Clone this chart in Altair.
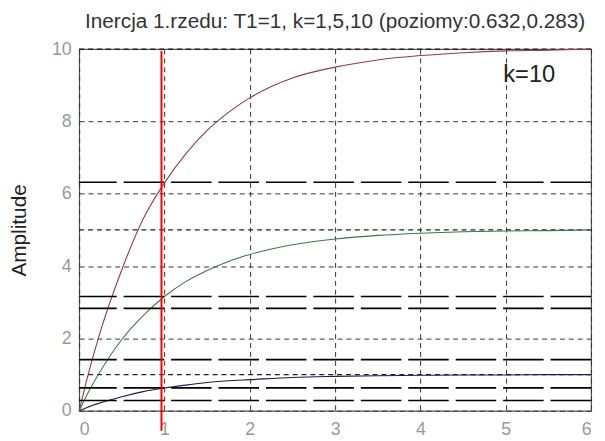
import altair as alt
import pandas as pd

# time samples
t = [0, 0.1, 0.25, 0.5, 0.75, 1, 1.25, 1.5, 1.75, 2, 2.5, 3, 3.5, 4, 4.5, 5, 5.5, 6]
# step responses
y_k10 = [0, 0.95, 2.2, 3.9, 5.3, 6.3, 7.1, 7.75, 8.25, 8.65, 9.2, 9.5, 9.7, 9.82, 9.9, 9.95, 9.97, 10]
y_k5 = [0, 0.48, 1.1, 1.97, 2.63, 3.16, 3.57, 3.88, 4.13, 4.32, 4.59, 4.75, 4.85, 4.91, 4.95, 4.97, 4.98, 5]
y_k1 = [0, 0.1, 0.22, 0.39, 0.53, 0.63, 0.71, 0.78, 0.83, 0.86, 0.92, 0.95, 0.97, 0.98, 0.99, 0.99, 1.0, 1.0]

k_labels = ["1", "5", "10"]
k_colors = ["#1c1c50", "#3a7a46", "#903c4c"]

# horizontal reference levels
steady_levels = [1, 5, 10]
level_lines = [6.32, 3.16, 2.83, 1.415, 0.632, 0.283]

# red vertical marker (time constant)
marker_t = [0.965]
marker_y_low = [-0.55]
marker_y_high = [9.95]

x_ticks = [0, 1, 2, 3, 4, 5, 6]
y_ticks = [0, 2, 4, 6, 8, 10]

title_text = "Inercja 1.rzedu: T1=1, k=1,5,10 (poziomy:0.632,0.283)"
annot_text = ["k=10"]
annot_x = [4.97]
annot_y = [9.1]

FONT = "Liberation Sans"

rows = []
for k, ys in zip(k_labels, [y_k1, y_k5, y_k10]):
    for ti, yi in zip(t, ys):
        rows.append({"t": ti, "y": yi, "k": k})
curves_df = pd.DataFrame(rows)

x_scale = alt.Scale(domain=[0, 6], nice=False, zero=False)
y_scale = alt.Scale(domain=[0, 10], nice=False, zero=False)

x_axis = alt.Axis(values=x_ticks, title=None, grid=True, labelPadding=10)
y_axis = alt.Axis(values=y_ticks, title="Amplitude", grid=True, labelPadding=8, titlePadding=22)

steady = alt.Chart(pd.DataFrame({"y": steady_levels})).mark_rule(
    color="#222", strokeWidth=1.2, strokeDash=[5, 4]
).encode(y=alt.Y("y:Q", scale=y_scale, axis=y_axis))

curves = alt.Chart(curves_df).mark_line(strokeWidth=1.1, interpolate="monotone").encode(
    x=alt.X("t:Q", scale=x_scale, axis=x_axis),
    y=alt.Y("y:Q", scale=y_scale, axis=y_axis),
    color=alt.Color("k:N", scale=alt.Scale(domain=k_labels, range=k_colors), legend=None),
    detail="k:N",
)

levels = alt.Chart(pd.DataFrame({"y": level_lines})).mark_rule(
    color="#000", strokeWidth=1.6, strokeDash=[41, 7]
).encode(y=alt.Y("y:Q", scale=y_scale, axis=y_axis))

marker = alt.Chart(pd.DataFrame({"x": marker_t, "y": marker_y_low, "y2": marker_y_high})).mark_rule(
    color="#ff0000", strokeWidth=2
).encode(
    x=alt.X("x:Q", scale=x_scale, axis=x_axis),
    y=alt.Y("y:Q", scale=y_scale, axis=y_axis),
    y2="y2:Q",
)

annot = alt.Chart(pd.DataFrame({"x": annot_x, "y": annot_y, "text": annot_text})).mark_text(
    align="left", baseline="alphabetic", fontSize=24, font=FONT, color="#222"
).encode(
    x=alt.X("x:Q", scale=x_scale, axis=x_axis),
    y=alt.Y("y:Q", scale=y_scale, axis=y_axis),
    text="text:N",
)

chart = alt.layer(steady, curves, levels, marker, annot).properties(
    width=518,
    height=366,
    background="white",
    title=alt.TitleParams(
        text=title_text, fontSize=21, font=FONT, color="#333", anchor="middle",
        offset=8, fontWeight="normal",
    ),
    autosize=alt.AutoSizeParams(type="none"),
    padding={"left": 72, "top": 39, "right": 6, "bottom": 25},
).configure_view(
    stroke="#555", strokeWidth=1.2
).configure_axis(
    domain=False,
    ticks=False,
    tickSize=0,
    gridColor="#333",
    gridDash=[5, 4],
    gridWidth=1,
    gridOpacity=1,
    labelFont=FONT,
    labelFontSize=18,
    labelColor="#999",
    titleFont=FONT,
    titleFontSize=21,
    titleFontWeight="normal",
    titleColor="#222",
)

chart.save("out.html", embed_options={"renderer": "svg", "actions": False})
